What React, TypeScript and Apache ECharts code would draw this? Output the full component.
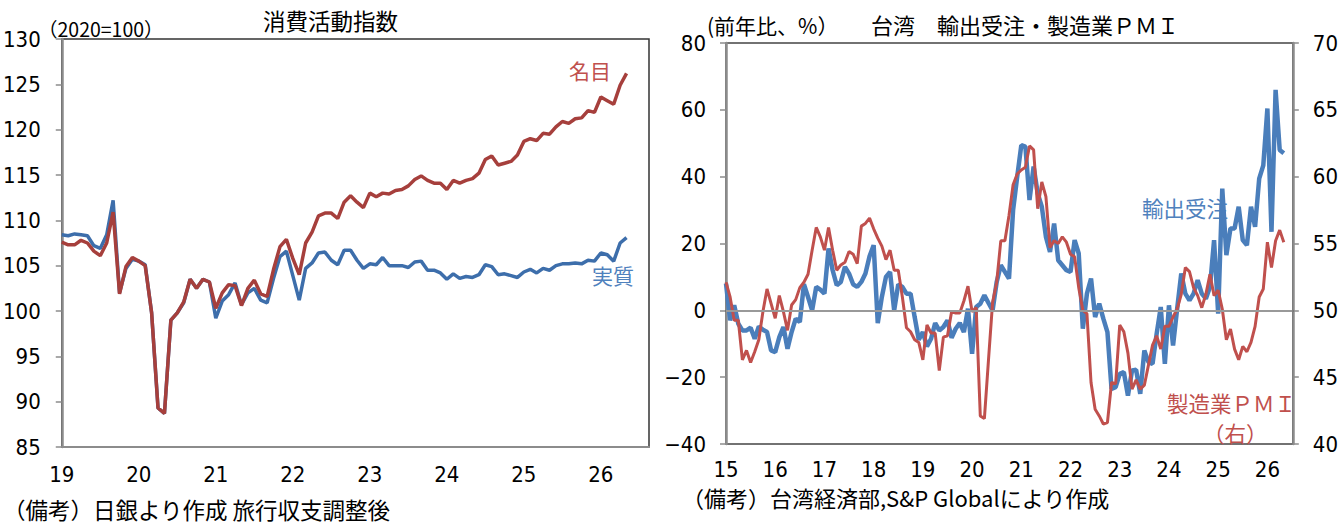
import React, { useEffect, useRef } from "react";
import * as echarts from "echarts";

// 消費活動指数 (2020=100), monthly from Jan 2019
const consumptionStartYear = 2019;
const realIndex = [
  108.4, 108.3, 108.5, 108.4, 108.3, 107.2, 106.9, 108.4, 112.2, 102.0,
  104.7, 105.7, 105.5, 105.1, 99.8, 89.3, 88.7, 99.0, 99.8, 100.9,
  103.5, 102.5, 103.5, 103.2, 99.2, 101.1, 101.8, 103.1, 100.7, 102.0,
  102.5, 101.2, 100.9, 103.6, 106.0, 106.6, 103.9, 101.2, 104.7, 105.3,
  106.4, 106.5, 105.6, 105.1, 106.7, 106.7, 105.6, 104.7, 105.2, 105.1,
  105.9, 105.0, 105.0, 105.0, 104.8, 105.4, 105.5, 104.5, 104.5, 104.2,
  103.5, 104.1, 103.6, 103.8, 103.7, 104.0, 105.1, 104.9, 104.0, 104.1,
  103.9, 103.7, 104.3, 104.6, 104.2, 104.7, 104.5, 105.0, 105.2, 105.2,
  105.3, 105.2, 105.6, 105.5, 106.4, 106.2, 105.5, 107.5, 108.1,
];
const nominalIndex = [
  107.6, 107.3, 107.3, 107.8, 107.5, 106.6, 106.1, 107.5, 110.9, 101.9,
  104.9, 105.9, 105.5, 105.0, 99.8, 89.3, 88.7, 99.0, 99.8, 101.0,
  103.5, 102.5, 103.5, 103.2, 100.3, 102.0, 102.9, 102.8, 100.6, 102.5,
  103.4, 101.9, 101.6, 104.6, 107.1, 107.9, 105.8, 104.0, 107.5, 108.7,
  110.5, 110.8, 110.8, 110.2, 112.0, 112.7, 112.0, 111.4, 113.0, 112.6,
  113.0, 112.9, 113.3, 113.4, 113.8, 114.5, 114.9, 114.4, 114.1, 114.1,
  113.4, 114.4, 114.1, 114.4, 114.6, 115.2, 116.7, 117.1, 116.1, 116.3,
  116.5, 117.2, 118.7, 119.0, 118.8, 119.6, 119.5, 120.3, 120.9, 120.7,
  121.2, 121.3, 122.1, 121.9, 123.6, 123.2, 122.8, 124.9, 126.2,
];

// 台湾 輸出受注 (前年比 %) and 製造業PMI, monthly from Jan 2015
const taiwanStartYear = 2015;
const exportOrders = [
  8, -3, 1.5, -4, -6, -6, -5.2, -8.5, -4.8, -5.8,
  -6.5, -12, -12.5, -8, -5, -11.5, -6.5, -2.5, -3.5, 7.8,
  4, 0, 7, 6.2, 5, 18.5, 12, 7.5, 8.5, 13,
  11, 7.8, 7, 8.5, 11, 16.2, 19.5, -3.8, 4, 10,
  11.5, 0, 7.8, 7, 5, 5, -2, -8.8, -6.5, -10.8,
  -8.5, -3.8, -6, -5, -3, -8.2, -5.5, -3.8, -6.5, 0.5,
  -13, 1, 2, 4.5, 2.2, 0, 8.5, 13.5, 11.5, 9.5,
  30, 40, 49.4, 49, 33, 43, 35, 31, 22, 17.5,
  26, 15, 13.5, 12, 11.5, 21, 17, -5.5, 5, 9.5,
  -2, 2, -2.5, -6.5, -23.5, -23, -19, -18.5, -25.5, -18,
  -17.8, -25, -12, -15.5, -16, -7, 1, -16, 1.5, -10.5,
  0.5, 11, 5, 3, 5, 9, 5, 3.5, 7, 21,
  -1, 36.4, 16.5, 24.5, 24.5, 31, 21, 19.5, 31, 25,
  39.4, 43.4, 60.4, 23.5, 66, 48, 47,
];
const manufacturingPmi = [
  52.1, 51.0, 49.25, 49.25, 46.3, 47.0, 46.1, 46.9, 47.8, 49.9,
  51.6, 50.5, 49.4, 51.1, 49.9, 48.5, 50.4, 50.8, 51.7, 52.1,
  52.7, 54.5, 56.2, 55.5, 54.5, 56.2, 54.5, 53.0, 53.4, 53.6,
  54.4, 54.2, 53.5, 56.3, 56.5, 56.9, 56.1, 55.4, 54.8, 53.8,
  54.5, 53.0, 53.0, 51.0, 48.7, 48.4, 47.8, 47.6, 46.3, 48.9,
  48.3, 48.3, 45.5, 48.0, 48.1, 49.9, 49.8, 49.8, 50.7, 51.8,
  49.9, 50.2, 42.1, 41.9, 46.3, 50.6, 52.1, 55.2, 55.2, 57.1,
  59.4, 60.2, 60.5, 60.7, 62.3, 62.0, 57.6, 59.6, 58.5, 54.7,
  55.2, 55.0, 55.5, 55.1, 54.2, 54.0, 51.7, 50.0, 49.75, 44.6,
  42.6, 42.1, 41.5, 41.6, 44.6, 44.5, 48.9, 48.4, 46.8, 44.1,
  44.8, 44.1, 44.4, 45.9, 47.4, 48.1, 47.1, 48.8, 48.8, 49.5,
  50.1, 51.2, 53.2, 52.9, 51.7, 51.1, 50.2, 51.2, 52.7, 51.1,
  51.5, 50.1, 47.8, 48.6, 47.1, 46.3, 47.3, 46.9, 47.6, 48.8,
  51.0, 51.6, 55.1, 53.2, 55.2, 56.0, 55.1,
];

const NUM_FONT =
  '"Liberation Sans Narrow", "DejaVu Sans Condensed", "Liberation Sans", sans-serif';
const JP_FONT = '"Noto Sans CJK JP", sans-serif';

const AXIS_GRAY = "#8c8c8c";

const toPoints = (values: number[]) => values.map((v, i) => [i, v]);

const yearLabel = (start: number) => (v: number) =>
  v % 12 === 0 ? String((start + v / 12) % 100).padStart(2, "0") : "";

const signed = (v: number) => (v < 0 ? "\u2212" + Math.abs(v) : String(v));

const numLabel = (margin: number, formatter?: (v: number) => string) => ({
  margin,
  color: "#000",
  fontSize: 22,
  fontFamily: NUM_FONT,
  ...(formatter ? { formatter } : {}),
});

const text = (
  content: string,
  x: number,
  y: number,
  color: string,
  size: number,
  family: string = JP_FONT
) => ({
  type: "text",
  x,
  y,
  silent: true,
  style: {
    text: content,
    fill: color,
    fontSize: size,
    fontFamily: family,
    textAlign: "left",
    textVerticalAlign: "middle",
    align: "left",
    verticalAlign: "middle",
  },
});

export default function App() {
  const ref = useRef<HTMLDivElement>(null);

  useEffect(() => {
    if (!ref.current) return;
    const chart = echarts.init(ref.current, undefined, { renderer: "svg" });

    chart.setOption({
      animation: false,
      backgroundColor: "#fff",
      grid: [
        {
          left: 56,
          top: 39,
          width: 593,
          height: 408,
          show: true,
          borderColor: "#333",
          borderWidth: 1.5,
          backgroundColor: "transparent",
        },
        {
          left: 726,
          top: 43,
          width: 570,
          height: 401,
          show: true,
          borderColor: "#444",
          borderWidth: 1.5,
          backgroundColor: "transparent",
        },
      ],
      xAxis: [
        {
          type: "value",
          gridIndex: 0,
          min: 0,
          max: 91.5,
          interval: 12,
          axisLine: { show: true, lineStyle: { color: AXIS_GRAY, width: 2 } },
          axisTick: { show: false },
          splitLine: { show: false },
          axisLabel: {
            ...numLabel(16, yearLabel(consumptionStartYear)),
            showMaxLabel: false,
          },
        },
        {
          type: "value",
          gridIndex: 1,
          min: 0,
          max: 138.2,
          interval: 12,
          axisLine: { show: true, lineStyle: { color: "#000", width: 2 } },
          axisTick: { show: false },
          splitLine: { show: false },
          axisLabel: {
            ...numLabel(14, yearLabel(taiwanStartYear)),
            showMaxLabel: false,
          },
        },
      ],
      yAxis: [
        {
          type: "value",
          gridIndex: 0,
          min: 85,
          max: 130,
          interval: 5,
          axisLine: { show: true, lineStyle: { color: AXIS_GRAY, width: 2.5 } },
          axisTick: { show: true, length: 6, lineStyle: { color: AXIS_GRAY, width: 1.5 } },
          splitLine: { show: false },
          axisLabel: numLabel(21),
        },
        {
          type: "value",
          gridIndex: 1,
          position: "left",
          min: -40,
          max: 80,
          interval: 20,
          axisLine: { show: true, lineStyle: { color: AXIS_GRAY, width: 2.5 } },
          axisTick: { show: true, length: 6, lineStyle: { color: AXIS_GRAY, width: 1.5 } },
          splitLine: { show: false },
          axisLabel: numLabel(20, signed),
        },
        {
          type: "value",
          gridIndex: 1,
          position: "right",
          min: 40,
          max: 70,
          interval: 5,
          axisLine: { show: true, lineStyle: { color: AXIS_GRAY, width: 2.5 } },
          axisTick: { show: true, length: 6, lineStyle: { color: AXIS_GRAY, width: 1.5 } },
          splitLine: { show: false },
          axisLabel: numLabel(20),
        },
      ],
      series: [
        {
          name: "実質",
          type: "line",
          xAxisIndex: 0,
          yAxisIndex: 0,
          data: toPoints(realIndex),
          showSymbol: false,
          z: 2,
          lineStyle: { color: "#3d6eab", width: 3.5 },
          itemStyle: { color: "#3d6eab" },
        },
        {
          name: "名目",
          type: "line",
          xAxisIndex: 0,
          yAxisIndex: 0,
          data: toPoints(nominalIndex),
          showSymbol: false,
          z: 3,
          lineStyle: { color: "#a63f3c", width: 3.5 },
          itemStyle: { color: "#a63f3c" },
        },
        {
          name: "輸出受注",
          type: "line",
          xAxisIndex: 1,
          yAxisIndex: 1,
          data: toPoints(exportOrders),
          showSymbol: false,
          z: 2,
          lineStyle: { color: "#4a7ebb", width: 4.5 },
          itemStyle: { color: "#4a7ebb" },
          markLine: {
            silent: true,
            symbol: ["none", "none"],
            label: { show: false },
            lineStyle: { color: "#999", width: 2, type: "solid" },
            data: [{ yAxis: 0 }],
          },
        },
        {
          name: "製造業ＰＭＩ",
          type: "line",
          xAxisIndex: 1,
          yAxisIndex: 2,
          data: toPoints(manufacturingPmi),
          showSymbol: false,
          z: 3,
          lineStyle: { color: "#c0504d", width: 3 },
          itemStyle: { color: "#c0504d" },
        },
      ],
      graphic: [
        text("消費活動指数", 263, 20, "#000", 22.5),
        text("（2020=100）", 38, 28, "#000", 19.5),
        text("名目", 569, 70, "#c0504d", 21),
        text("実質", 592, 275, "#4f81bd", 21),
        text("（備考）日銀より作成 旅行収支調整後", 3, 509, "#000", 22.5),
        text("(前年比、%）", 707, 25, "#000", 21),
        text("台湾　輸出受注・製造業ＰＭＩ", 871, 24, "#000", 22),
        text("輸出受注", 1142, 207, "#4f81bd", 21.5),
        text("製造業ＰＭＩ", 1167, 402, "#c0504d", 21.5),
        text("（右）", 1203, 432, "#c0504d", 21.5),
        text("（備考）台湾経済部,S&P Globalにより作成", 682, 497, "#000", 22),
      ],
    });

    return () => chart.dispose();
  }, []);

  return (
    <div
      ref={ref}
      style={{
        position: "fixed",
        left: 0,
        top: 0,
        width: 1341,
        height: 525,
        background: "#fff",
      }}
    />
  );
}
